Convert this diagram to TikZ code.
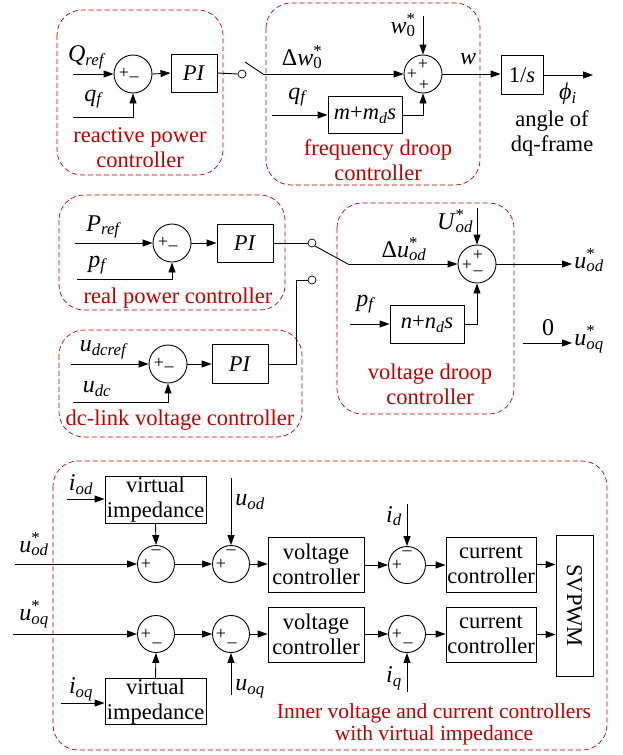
\documentclass[tikz,border=0pt]{standalone}
\usepackage{fontspec}
\setmainfont{Liberation Serif}
\usetikzlibrary{arrows.meta}
\definecolor{dred}{RGB}{192,0,0}
\newcommand{\myvsub}[2]{\textit{#1}\textsubscript{\textit{#2}}}
\newcommand{\myvss}[3]{\textit{#1}\rlap{\textsuperscript{#2}}\textsubscript{#3}}
\begin{document}
\begin{tikzpicture}[x=1pt,y=-1pt, line width=0.9pt,
 font=\fontsize{22.5}{25}\selectfont,
 >={Triangle[length=10pt,width=7pt]},
 blk/.style={draw, inner sep=0pt, align=center},
 sumc/.style={draw, circle, minimum size=38pt, inner sep=0pt},
 grp/.style={draw=dred, dash pattern=on 5pt off 3pt, rounded corners=25pt, line width=0.7pt},
 rtxt/.style={text=dred, align=center},
 sgn/.style={font=\fontsize{18}{18}\selectfont, inner sep=0pt},
 contact/.style={draw, circle, fill=white, minimum size=8pt, inner sep=0pt, line width=0.7pt},
 lbl/.style={inner sep=0pt, font=\fontsize{24}{25}\selectfont}]
\useasboundingbox (0,0) rectangle (623,755);

% ---------- groups ----------
\draw[grp] (57,10) rectangle (223,175);
\draw[grp] (266,3) rectangle (480,185);
\draw[grp] (59,195) rectangle (285,310);
\draw[grp] (59,330) rectangle (302,437);
\draw[grp] (337,203) rectangle (514,414);
\draw[grp] (53,461) rectangle (607,750);

% ---------- reactive power controller ----------
\node[sumc] (s1) at (133,74) {};
\node[sgn] at ([shift={(-9,-1)}]s1.center) {+};
\node[sgn] at ([shift={(1,3)}]s1.center) {\_};
\node[blk, minimum width=46pt, minimum height=38pt] (pi1) at (194,73) {\textit{PI}};
\coordinate (qin) at (73,74);
\coordinate (qfin) at (73,117);
\draw[->] (qin) -- (s1.west);
\draw[->] (qfin) -| (s1.south);
\draw[->] (s1.east) -- (pi1.west);
\node[lbl] at (87,57) {\myvsub{Q}{ref}};
\node[lbl] at (94,99) {\myvsub{q}{f}};
\node[contact] (c1) at (242,74) {};
\draw (pi1.east) -- (c1.west);
\coordinate (lv1a) at (245,62);
\coordinate (lv1b) at (263,74);
\draw (lv1a) -- (lv1b);
\node[rtxt] at (140,148) {reactive power\\controller};

% ---------- frequency droop controller ----------
\node[sumc] (s2) at (423,74) {};
\node[sgn] at ([shift={(0,-10)}]s2.center) {+};
\node[sgn] at ([shift={(-11,0)}]s2.center) {+};
\node[sgn] at ([shift={(1,11)}]s2.center) {+};
\draw[->] (lv1b) -- (s2.west);
\node[lbl] at (302,57) {Δ\myvss{w}{*}{0}};
\coordinate (w0in) at (423,16);
\draw[->] (w0in) -- (s2.north);
\node[lbl] at (403,25) {\myvss{w}{*}{0}};
\node[blk, minimum width=74pt, minimum height=37pt] (mb) at (365,115) {\textit{m}+\myvsub{m}{d}\textit{s}};
\coordinate (qf2in) at (272,115);
\draw[->] (qf2in) -- (mb.west);
\node[lbl] at (298,97) {\myvsub{q}{f}};
\draw[->] (mb.east) -| (s2.south);
\node[blk, minimum width=42pt, minimum height=39pt] (os) at (522,75) {1/\textit{s}};
\draw[->] (s2.east) -- (os.west |- s2.east);
\node[lbl] at (468,59) {\textit{w}};
\coordinate (phiout) at (593,75);
\draw[->] (os.east) -- (phiout);
\node[lbl] at (568,94) {\myvsub{ϕ}{i}};
\node[align=center, inner sep=0pt] at (552,133) {angle of\\dq-frame};
\node[rtxt] at (378,160) {frequency droop\\controller};

% ---------- real power controller ----------
\node[sumc] (s3) at (172,243) {};
\node[sgn] at ([shift={(-9,-1)}]s3.center) {+};
\node[sgn] at ([shift={(1,3)}]s3.center) {\_};
\node[blk, minimum width=56pt, minimum height=38pt] (pi3) at (245,243) {\textit{PI}};
\coordinate (pin) at (75,243);
\coordinate (pfin) at (77,279);
\draw[->] (pin) -- (s3.west);
\draw[->] (pfin) -| (s3.south);
\draw[->] (s3.east) -- (pi3.west);
\node[lbl] at (104,227) {\myvsub{P}{ref}};
\node[lbl] at (98,265) {\myvsub{p}{f}};
\node[contact] (c3) at (312,243) {};
\draw (pi3.east) -- (c3.west);
\node[rtxt] at (178,298) {real power controller};

% ---------- dc-link voltage controller ----------
\node[sumc] (s4) at (168,364) {};
\node[sgn] at ([shift={(-9,-1)}]s4.center) {+};
\node[sgn] at ([shift={(1,3)}]s4.center) {\_};
\node[blk, minimum width=56pt, minimum height=39pt] (pi4) at (240,364) {\textit{PI}};
\coordinate (udin) at (71,364);
\coordinate (udcin) at (73,402);
\draw[->] (udin) -- (s4.west);
\draw[->] (udcin) -| (s4.south);
\draw[->] (s4.east) -- (pi4.west);
\node[lbl] at (104,350) {\myvsub{u}{dcref}};
\node[lbl] at (97,389) {\myvsub{u}{dc}};
\node[contact] (c4) at (312,280) {};
\coordinate (cr) at (296,0);
\draw (pi4.east) -| (cr |- c4) -- (c4.west);
\node[rtxt] at (180,420) {dc-link voltage controller};

% ---------- voltage droop controller ----------
\node[sumc] (s5) at (477,264) {};
\node[sgn] at ([shift={(1,-9)}]s5.center) {+};
\node[sgn] at ([shift={(-10,1)}]s5.center) {+};
\node[sgn] at ([shift={(1,9)}]s5.center) {--};
\coordinate (lv2) at (348,264);
\draw (c3.south east) -- (lv2);
\draw[->] (lv2) -- (s5.west);
\node[lbl] at (404,249) {Δ\myvss{u}{*}{\textit{od}}};
\coordinate (uodin) at (477,208);
\draw[->] (uodin) -- (s5.north);
\node[lbl] at (455,221) {\myvss{U}{*}{\textit{od}}};
\coordinate (uodout) at (572,264);
\draw[->] (s5.east) -- (uodout);
\node[lbl, anchor=west] at (574,260) {\myvss{u}{*}{\textit{od}}};
\node[blk, minimum width=74pt, minimum height=38pt] (nb) at (427,324) {\textit{n}+\myvsub{n}{d}\textit{s}};
\coordinate (pf2in) at (350,324);
\draw[->] (pf2in) -- (nb.west);
\node[lbl] at (366,304) {\myvsub{p}{f}};
\draw[->] (nb.east) -| (s5.south);
\coordinate (zin) at (523,343);
\coordinate (uoqout) at (572,343);
\draw[->] (zin) -- (uoqout);
\node[lbl] at (548,328) {0};
\node[lbl, anchor=west] at (574,339) {\myvss{u}{*}{\textit{oq}}};
\node[rtxt] at (430,384) {voltage droop\\controller};

% ---------- inner loops ----------
\node[blk, minimum width=101pt, minimum height=47pt] (vi1) at (155.5,499.5) {virtual\\impedance};
\node[blk, minimum width=101pt, minimum height=45pt] (vi2) at (155.5,701.5) {virtual\\impedance};
\node[sumc, minimum size=37pt] (a1) at (156,564) {};
\node[sumc, minimum size=37pt] (a2) at (231,564) {};
\node[sumc, minimum size=37pt] (a3) at (407,565) {};
\node[sumc, minimum size=37pt] (a4) at (156,634) {};
\node[sumc, minimum size=37pt] (a5) at (231,634) {};
\node[sumc, minimum size=37pt] (a6) at (407,634) {};
\foreach \n in {a1,a2,a3,a4,a5,a6} {\node[sgn] at ([shift={(-10,0)}]\n.center) {+};}
\foreach \n in {a1,a2,a3} {\node[sgn] at ([shift={(0,-12)}]\n.center) {--};}
\foreach \n in {a4,a5,a6} {\node[sgn] at ([shift={(1,9)}]\n.center) {\_};}
\node[blk, minimum width=96pt, minimum height=55pt] (vc1) at (316,564.5) {voltage\\controller};
\node[blk, minimum width=96pt, minimum height=55pt] (vc2) at (316,634.5) {voltage\\controller};
\node[blk, minimum width=90pt, minimum height=55pt] (cc1) at (491,564.5) {current\\controller};
\node[blk, minimum width=90pt, minimum height=55pt] (cc2) at (491,634.5) {current\\controller};
\node[blk, minimum width=37pt, minimum height=141pt] (sv) at (574.5,605.5) {};
\node[rotate=-90, inner sep=0pt] at (sv.center) {SVPWM};

\coordinate (uodsin) at (15,564);
\coordinate (uoqsin) at (13,634);
\draw[->] (uodsin) -- (a1.west);
\draw[->] (uoqsin) -- (a4.west);
\node[lbl] at (34,544) {\myvss{u}{*}{\textit{od}}};
\node[lbl] at (34,614) {\myvss{u}{*}{\textit{oq}}};
\coordinate (iodin) at (67,499);
\coordinate (ioqin) at (61,703);
\draw[->] (iodin) -- (vi1.west |- iodin);
\draw[->] (ioqin) -- (vi2.west |- ioqin);
\node[lbl] at (81,485) {\myvsub{i}{od}};
\node[lbl] at (81,689) {\myvsub{i}{oq}};
\draw[->] (vi1.south) -- (a1.north);
\draw[->] (vi2.north) -- (a4.south);
\draw[->] (a1.east) -- (a2.west);
\draw[->] (a4.east) -- (a5.west);
\coordinate (uodm) at (231,478);
\coordinate (uoqm) at (231,695);
\draw[->] (uodm) -- (a2.north);
\draw[->] (uoqm) -- (a5.south);
\node[lbl, anchor=west] at (235,502) {\myvsub{u}{od}};
\node[lbl, anchor=west] at (235,689) {\myvsub{u}{oq}};
\draw[->] (a2.east) -- (vc1.west |- a2.east);
\draw[->] (a5.east) -- (vc2.west |- a5.east);
\draw[->] (vc1.east |- a3.west) -- (a3.west);
\draw[->] (vc2.east |- a6.west) -- (a6.west);
\coordinate (idin) at (407,504);
\coordinate (iqin) at (407,692);
\draw[->] (idin) -- (a3.north);
\draw[->] (iqin) -- (a6.south);
\node[lbl] at (394,516) {\myvsub{i}{d}};
\node[lbl] at (394,678) {\myvsub{i}{q}};
\draw[->] (a3.east) -- (cc1.west |- a3.east);
\draw[->] (a6.east) -- (cc2.west |- a6.east);
\draw[->] (cc1.east) -- (sv.west |- cc1.east);
\draw[->] (cc2.east) -- (sv.west |- cc2.east);
\node[rtxt, font=\fontsize{21.5}{22}\selectfont] at (434,724) {Inner voltage and current controllers\\with virtual impedance};
\end{tikzpicture}
\end{document}
